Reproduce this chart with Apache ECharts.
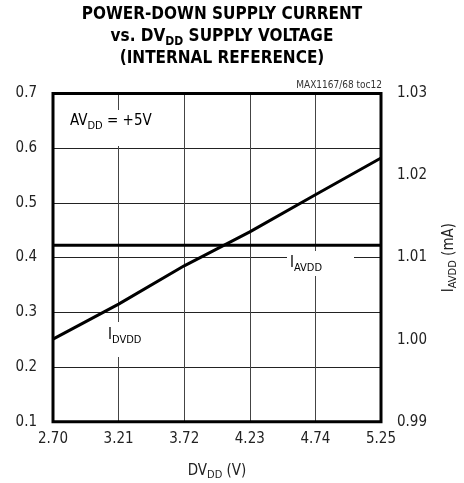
<!DOCTYPE html>
<html>
<head>
<meta charset="utf-8">
<script src="https://cdn.jsdelivr.net/npm/echarts@6/dist/echarts.min.js"></script>
<style>html,body{margin:0;padding:0;background:#fff;}#c{width:464px;height:483px;}</style>
</head>
<body>
<div id="c"></div>
<script>
var xCategories = ['2.70', '3.21', '3.72', '4.23', '4.74', '5.25'];
var iDVDD = [0.251, 0.315, 0.385, 0.447, 0.515, 0.582];   // left axis, mA
var iAVDD = [1.0115, 1.0115, 1.0115, 1.0115, 1.0115, 1.0115]; // right axis, mA
var leftTicks = {min: 0.1, max: 0.7, interval: 0.1};
var rightTicks = {min: 0.99, max: 1.03, interval: 0.01};

var FF = '"Liberation Sans Narrow", "DejaVu Sans Condensed", "Arial Narrow", sans-serif';
var chart = echarts.init(document.getElementById('c'));
var subRich = {
  m: {fontFamily: FF, fontSize: 15, color: '#222', lineHeight: 20},
  s: {fontFamily: FF, fontSize: 11, color: '#222', lineHeight: 10, verticalAlign: 'bottom'}
};
chart.setOption({
  animation: false,
  title: {
    left: 217, top: -1, textAlign: 'center',
    text: '{b|POWER-DOWN SUPPLY CURRENT}\n{b|vs. DV}{bs|DD}{b| SUPPLY VOLTAGE}\n{b|(INTERNAL REFERENCE)}',
    textStyle: {
      rich: {
        b: {fontFamily: FF, fontWeight: 'bold', fontSize: 17, color: '#000', lineHeight: 22},
        bs: {fontFamily: FF, fontWeight: 'bold', fontSize: 12, color: '#000', lineHeight: 14, verticalAlign: 'bottom'}
      }
    }
  },
  grid: {left: 53, right: 83, top: 93.5, bottom: 61.3, containLabel: false, outerBoundsMode: 'none',
    show: true, borderColor: '#000', borderWidth: 3, backgroundColor: 'transparent', z: 3},
  xAxis: {
    type: 'category', data: xCategories, boundaryGap: false,
    axisLine: {show: false}, axisTick: {show: false},
    axisLabel: {fontFamily: FF, fontSize: 15, color: '#222', margin: 10, interval: 0},
    splitLine: {show: true, interval: 0, lineStyle: {color: '#444', width: 1}},
    name: '{m|DV}{s|DD}{m| (V)}', nameLocation: 'middle', nameGap: 39,
    nameTextStyle: {rich: subRich}
  },
  yAxis: [{
    type: 'value', min: leftTicks.min, max: leftTicks.max, interval: leftTicks.interval,
    axisLine: {show: false}, axisTick: {show: false},
    axisLabel: {fontFamily: FF, fontSize: 15, color: '#222', margin: 16, formatter: function (v) { return v.toFixed(1); }},
    splitLine: {show: true, lineStyle: {color: '#222', width: 1}}
  }, {
    type: 'value', min: rightTicks.min, max: rightTicks.max, interval: rightTicks.interval,
    position: 'right',
    axisLine: {show: false}, axisTick: {show: false},
    axisLabel: {fontFamily: FF, fontSize: 15, color: '#222', margin: 16, formatter: function (v) { return v.toFixed(2); }},
    splitLine: {show: false},
    name: '{m|I}{s|AVDD}{m| (mA)}', nameLocation: 'middle', nameRotate: 90, nameGap: 58,
    nameTextStyle: {rich: subRich}
  }],
  graphic: [
    {type: 'rect', z: 1, shape: {x: 60, y: 110, width: 90, height: 36}, style: {fill: '#fff'}},
    {type: 'text', z: 1, left: 70, top: 114, style: {text: '{m|AV}{s|DD}{m| = +5V}', rich: subRich}},
    {type: 'rect', z: 1, shape: {x: 287, y: 251, width: 67, height: 25}, style: {fill: '#fff'}},
    {type: 'text', z: 1, left: 290, top: 256, style: {text: '{m|I}{s|AVDD}', rich: subRich}},
    {type: 'rect', z: 1, shape: {x: 100, y: 322, width: 52, height: 35}, style: {fill: '#fff'}},
    {type: 'text', z: 1, left: 108, top: 328, style: {text: '{m|I}{s|DVDD}', rich: subRich}},
    {type: 'text', z: 1, right: 82, top: 80, style: {text: 'MAX1167/68 toc12', fontFamily: FF, fontSize: 10, fill: '#333'}}
  ],
  series: [
    {type: 'line', name: 'IDVDD', yAxisIndex: 0, data: iDVDD, symbol: 'none', lineStyle: {color: '#000', width: 3}, z: 4},
    {type: 'line', name: 'IAVDD', yAxisIndex: 1, data: iAVDD, symbol: 'none', lineStyle: {color: '#000', width: 3}, z: 4}
  ]
});
</script>
</body>
</html>
